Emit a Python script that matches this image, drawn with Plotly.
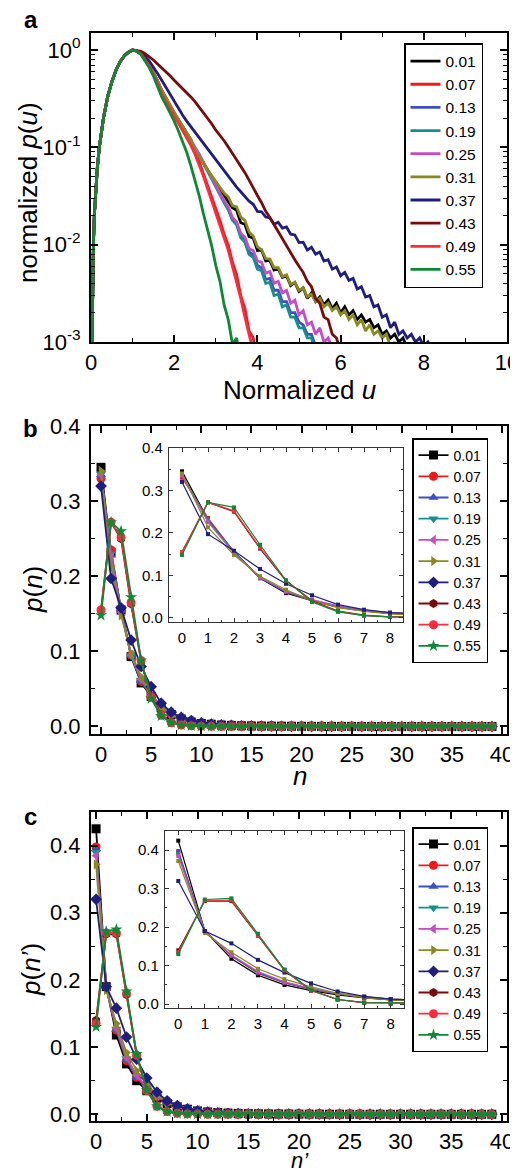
import plotly.graph_objects as go

W, H = 518, 1171          # reference picture size
OFF = 8                   # the page body margin shifts the figure by 8 px
FW, FH = W - OFF, H - OFF
FONT = "Liberation Sans, Arial, sans-serif"

# series labels, colours and marker symbols shared by all panels
labels = ["0.01", "0.07", "0.13", "0.19", "0.25", "0.31", "0.37", "0.43", "0.49", "0.55"]
colors = ["#000000", "#f01818", "#3a4fc8", "#12918f", "#c94bc4",
          "#8a8a1c", "#1e1e82", "#7a0a0a", "#ff2b3a", "#0b8a34"]
symbols = ["square", "circle", "triangle-up", "triangle-down", "triangle-left",
           "triangle-right", "diamond", "hexagon", "circle", "star"]

# ---- panel a: normalized p(u), shared rising edge then one tail per series
u_rise = [0.01, 0.02, 0.04, 0.06, 0.08, 0.1, 0.15, 0.2, 0.3, 0.4, 0.5, 0.6, 0.7, 0.8, 0.9]
p_rise = [0.0004, 0.001, 0.004, 0.011, 0.02, 0.03, 0.06, 0.10, 0.20, 0.33, 0.47, 0.62, 0.76, 0.87, 0.95]
u_tail = [1.0, 1.1, 1.2, 1.3, 1.4, 1.5, 1.6, 1.7, 1.8, 1.9,
          2.0, 2.1, 2.2, 2.3, 2.4, 2.5, 2.6, 2.7, 2.8, 2.9,
          3.0, 3.1, 3.2, 3.3, 3.4, 3.5, 3.6, 3.7, 3.8, 3.9,
          4.0, 4.1, 4.2, 4.3, 4.4, 4.5, 4.6, 4.7, 4.8, 4.9,
          5.0, 5.1, 5.2, 5.3, 5.4, 5.5, 5.6, 5.7, 5.8, 5.9,
          6.0, 6.1, 6.2, 6.3, 6.4, 6.5, 6.6, 6.7, 6.8, 6.9,
          7.0, 7.1, 7.2, 7.3, 7.4, 7.5, 7.6, 7.7, 7.8, 7.9,
          8.0, 8.1, 8.2, 8.3, 8.4]

pa_001 = [1.0, 0.977, 0.923, 0.822, 0.708, 0.589, 0.479, 0.385, 0.32, 0.266,
          0.226, 0.193, 0.164, 0.14, 0.12, 0.096, 0.081, 0.069, 0.059, 0.050,
          0.043, 0.037, 0.032, 0.028, 0.024, 0.0225, 0.0168, 0.0162, 0.0121, 0.0117,
          0.0087, 0.0088, 0.0068, 0.0069, 0.0055, 0.0057, 0.0046, 0.0048, 0.0038, 0.0041,
          0.0033, 0.0036, 0.0028, 0.0032, 0.0026, 0.0029, 0.0024, 0.0027, 0.0022, 0.0025,
          0.0020, 0.0023, 0.0019, 0.0021, 0.0017, 0.0019, 0.0016, 0.0017, 0.0014, 0.0015,
          0.0012, 0.0013, 0.0011, 0.0012, 0.0010, 0.0011, 0.0009, 0.0007]
pa_007 = [1.0, 0.98, 0.92, 0.81, 0.70, 0.575, 0.47, 0.36, 0.30, 0.25,
          0.214, 0.182, 0.155, 0.129, 0.11, 0.089, 0.071, 0.054, 0.041, 0.030,
          0.023, 0.0178, 0.0128, 0.0099, 0.0066, 0.0049, 0.0030, 0.0022, 0.0013, 0.0011,
          0.0006]
pa_013 = [1.0, 0.977, 0.922, 0.821, 0.706, 0.587, 0.477, 0.379, 0.315, 0.262,
          0.223, 0.190, 0.161, 0.137, 0.119, 0.101, 0.084, 0.070, 0.058, 0.048,
          0.040, 0.0332, 0.0276, 0.0232, 0.0182, 0.0165, 0.0124, 0.0110, 0.0084, 0.0079,
          0.0061, 0.0058, 0.0044, 0.0045, 0.0034, 0.0034, 0.0026, 0.0026, 0.0020, 0.0020,
          0.0016, 0.0015, 0.0012, 0.0012, 0.0009, 0.0008]
pa_019 = [1.0, 0.977, 0.922, 0.82, 0.705, 0.586, 0.476, 0.378, 0.314, 0.261,
          0.222, 0.189, 0.160, 0.136, 0.118, 0.100, 0.083, 0.069, 0.057, 0.047,
          0.039, 0.0325, 0.027, 0.0228, 0.0178, 0.0160, 0.0118, 0.0106, 0.0079, 0.0074,
          0.0056, 0.0054, 0.0040, 0.0041, 0.0030, 0.0031, 0.0023, 0.0024, 0.0018, 0.0018,
          0.0014, 0.0014, 0.0011, 0.0011, 0.0008]
pa_025 = [1.0, 0.977, 0.923, 0.822, 0.708, 0.589, 0.479, 0.38, 0.316, 0.263,
          0.224, 0.191, 0.162, 0.138, 0.12, 0.102, 0.0851, 0.0708, 0.0589, 0.049,
          0.0407, 0.0339, 0.0282, 0.0245, 0.019, 0.0172, 0.0131, 0.0119, 0.0091, 0.0087,
          0.0068, 0.0066, 0.0051, 0.0053, 0.0040, 0.0042, 0.0032, 0.0034, 0.0025, 0.0027,
          0.0019, 0.0021, 0.0015, 0.0016, 0.0012, 0.0014, 0.0010, 0.0011, 0.0009, 0.0007]
pa_031 = [1.0, 0.977, 0.923, 0.822, 0.708, 0.589, 0.479, 0.389, 0.324, 0.269,
          0.229, 0.195, 0.166, 0.141, 0.12, 0.0933, 0.0794, 0.0676, 0.0589, 0.0513,
          0.0447, 0.0389, 0.0339, 0.031, 0.0252, 0.0245, 0.0192, 0.0178, 0.0135, 0.0123,
          0.0095, 0.0089, 0.0072, 0.0071, 0.0058, 0.0058, 0.0047, 0.0049, 0.0039, 0.0041,
          0.0034, 0.0036, 0.0029, 0.0031, 0.0026, 0.0028, 0.0023, 0.0025, 0.0021, 0.0023,
          0.0019, 0.0021, 0.0017, 0.0019, 0.0015, 0.0017, 0.0013, 0.0015, 0.0012, 0.0013,
          0.0011, 0.0012, 0.0009, 0.0010, 0.0007]
pa_037 = [1.0, 0.98, 0.935, 0.86, 0.77, 0.67, 0.575, 0.49, 0.415, 0.35,
          0.295, 0.25, 0.215, 0.186, 0.163, 0.143, 0.126, 0.111, 0.098, 0.086,
          0.075, 0.065, 0.057, 0.050, 0.044, 0.039, 0.035, 0.031, 0.028, 0.026,
          0.022, 0.0218, 0.0192, 0.0188, 0.0162, 0.0170, 0.0148, 0.0152, 0.0128, 0.0126,
          0.0105, 0.0106, 0.0088, 0.0094, 0.0080, 0.0084, 0.0068, 0.0070, 0.0056, 0.0059,
          0.0048, 0.0052, 0.0043, 0.0045, 0.0035, 0.0037, 0.0029, 0.0030, 0.0023, 0.0024,
          0.0018, 0.0019, 0.0014, 0.0016, 0.0012, 0.0013, 0.0011, 0.0012, 0.0010, 0.0011,
          0.0009, 0.0010, 0.0008]
pa_043 = [1.0, 0.99, 0.97, 0.92, 0.86, 0.79, 0.72, 0.66, 0.60, 0.545,
          0.49, 0.445, 0.40, 0.365, 0.33, 0.295, 0.26, 0.23, 0.20, 0.175,
          0.15, 0.133, 0.117, 0.101, 0.087, 0.075, 0.064, 0.055, 0.046, 0.039,
          0.032, 0.027, 0.022, 0.019, 0.016, 0.0135, 0.0115, 0.0097, 0.0083, 0.0070,
          0.0060, 0.0052, 0.0042, 0.0037, 0.0028, 0.0025, 0.0018, 0.0017, 0.0012, 0.0011,
          0.0008, 0.0006]
pa_049 = [1.0, 0.975, 0.915, 0.80, 0.69, 0.565, 0.46, 0.355, 0.295, 0.245,
          0.21, 0.178, 0.15, 0.125, 0.105, 0.085, 0.067, 0.051, 0.038, 0.028,
          0.021, 0.0160, 0.0118, 0.0088, 0.0061, 0.0043, 0.0028, 0.0018, 0.0012, 0.0008]
pa_055 = [1.0, 0.97, 0.90, 0.78, 0.66, 0.54, 0.42, 0.33, 0.275, 0.23,
          0.186, 0.148, 0.117, 0.089, 0.065, 0.046, 0.032, 0.021, 0.0145, 0.0098,
          0.0061, 0.0042, 0.0024, 0.0017, 0.00095, 0.0011, 0.0006]
pa_tails = [pa_001, pa_007, pa_013, pa_019, pa_025, pa_031, pa_037, pa_043, pa_049, pa_055]

log_tickvals = [0.001, 0.01, 0.1, 1]
log_ticktext = ["10<sup>-3</sup>", "10<sup>-2</sup>", "10<sup>-1</sup>", "10<sup>0</sup>"]

# ---- panel b: p(n), n = 0..39
n_vals = list(range(40))
b_001 = [0.345, 0.232, 0.155, 0.093, 0.058, 0.040, 0.025, 0.016, 0.010, 0.006,
         0.004, 0.003, 0.002, 0.0015, 0.001, 0.0008, 0.0006, 0.0005, 0.0004, 0.0003,
         0.0002, 0.0002, 0.0001, 0.0001, 0.0001, 0.0001, 0, 0, 0, 0,
         0, 0, 0, 0, 0, 0, 0, 0, 0, 0]
b_007 = [0.330, 0.235, 0.155, 0.095, 0.060, 0.040, 0.025, 0.016, 0.010, 0.0065,
         0.0042, 0.003, 0.002, 0.0015, 0.001, 0.0008, 0.0006, 0.0005, 0.0004, 0.0003,
         0.0002, 0.0002, 0.0001, 0.0001, 0.0001, 0.0001, 0, 0, 0, 0,
         0, 0, 0, 0, 0, 0, 0, 0, 0, 0]
b_013 = [0.335, 0.228, 0.156, 0.094, 0.061, 0.041, 0.026, 0.017, 0.011, 0.007,
         0.0045, 0.0032, 0.0022, 0.0016, 0.0011, 0.0009, 0.0007, 0.0005, 0.0004, 0.0003,
         0.0002, 0.0002, 0.0001, 0.0001, 0.0001, 0.0001, 0, 0, 0, 0,
         0, 0, 0, 0, 0, 0, 0, 0, 0, 0]
b_019 = [0.336, 0.230, 0.155, 0.094, 0.062, 0.042, 0.027, 0.017, 0.011, 0.007,
         0.0046, 0.0033, 0.0023, 0.0016, 0.0012, 0.0009, 0.0007, 0.0005, 0.0004, 0.0003,
         0.0002, 0.0002, 0.0001, 0.0001, 0.0001, 0.0001, 0, 0, 0, 0,
         0, 0, 0, 0, 0, 0, 0, 0, 0, 0]
b_025 = [0.335, 0.225, 0.152, 0.095, 0.063, 0.043, 0.028, 0.018, 0.012, 0.008,
         0.005, 0.0036, 0.0026, 0.0018, 0.0013, 0.001, 0.0008, 0.0006, 0.0005, 0.0004,
         0.0003, 0.0002, 0.0002, 0.0001, 0.0001, 0.0001, 0, 0, 0, 0,
         0, 0, 0, 0, 0, 0, 0, 0, 0, 0]
b_031 = [0.340, 0.213, 0.148, 0.098, 0.066, 0.040, 0.024, 0.015, 0.009, 0.0055,
         0.0035, 0.0024, 0.0016, 0.0011, 0.0008, 0.0006, 0.0004, 0.0003, 0.0002, 0.0002,
         0.0001, 0.0001, 0.0001, 0, 0, 0, 0, 0, 0, 0,
         0, 0, 0, 0, 0, 0, 0, 0, 0, 0]
b_037 = [0.320, 0.197, 0.158, 0.115, 0.080, 0.053, 0.031, 0.019, 0.012, 0.008,
         0.005, 0.0033, 0.0022, 0.0015, 0.001, 0.0007, 0.0005, 0.0004, 0.0003, 0.0002,
         0.0002, 0.0001, 0.0001, 0.0001, 0, 0, 0, 0, 0, 0,
         0, 0, 0, 0, 0, 0, 0, 0, 0, 0]
b_043 = [0.155, 0.272, 0.250, 0.163, 0.087, 0.040, 0.016, 0.006, 0.002, 0.001,
         0.0005, 0.0002, 0.0001, 0.0001, 0, 0, 0, 0, 0, 0,
         0, 0, 0, 0, 0, 0, 0, 0, 0, 0,
         0, 0, 0, 0, 0, 0, 0, 0, 0, 0]
b_049 = [0.155, 0.272, 0.252, 0.165, 0.088, 0.039, 0.015, 0.005, 0.002, 0.001,
         0.0004, 0.0002, 0.0001, 0.0001, 0, 0, 0, 0, 0, 0,
         0, 0, 0, 0, 0, 0, 0, 0, 0, 0,
         0, 0, 0, 0, 0, 0, 0, 0, 0, 0]
b_055 = [0.148, 0.272, 0.260, 0.172, 0.088, 0.037, 0.014, 0.005, 0.0018, 0.0007,
         0.0003, 0.0001, 0.0001, 0, 0, 0, 0, 0, 0, 0,
         0, 0, 0, 0, 0, 0, 0, 0, 0, 0,
         0, 0, 0, 0, 0, 0, 0, 0, 0, 0]
b_series = [b_001, b_007, b_013, b_019, b_025, b_031, b_037, b_043, b_049, b_055]

# ---- panel c: p(n'), n' = 0..39
c_001 = [0.425, 0.190, 0.118, 0.075, 0.050, 0.035, 0.024, 0.016, 0.011, 0.0075,
         0.005, 0.0035, 0.0025, 0.0018, 0.0013, 0.001, 0.0008, 0.0006, 0.0005, 0.0004,
         0.0003, 0.0002, 0.0002, 0.0001, 0.0001, 0.0001, 0, 0, 0, 0,
         0, 0, 0, 0, 0, 0, 0, 0, 0, 0]
c_007 = [0.398, 0.190, 0.125, 0.080, 0.055, 0.038, 0.026, 0.018, 0.012, 0.008,
         0.0055, 0.0038, 0.0027, 0.0019, 0.0014, 0.001, 0.0008, 0.0006, 0.0005, 0.0004,
         0.0003, 0.0002, 0.0002, 0.0001, 0.0001, 0.0001, 0, 0, 0, 0,
         0, 0, 0, 0, 0, 0, 0, 0, 0, 0]
c_013 = [0.395, 0.190, 0.126, 0.082, 0.056, 0.039, 0.027, 0.018, 0.0125, 0.0085,
         0.006, 0.004, 0.0028, 0.002, 0.0014, 0.001, 0.0008, 0.0006, 0.0005, 0.0004,
         0.0003, 0.0002, 0.0002, 0.0001, 0.0001, 0.0001, 0, 0, 0, 0,
         0, 0, 0, 0, 0, 0, 0, 0, 0, 0]
c_019 = [0.390, 0.190, 0.127, 0.083, 0.057, 0.040, 0.027, 0.019, 0.013, 0.009,
         0.006, 0.0042, 0.003, 0.0021, 0.0015, 0.0011, 0.0008, 0.0006, 0.0005, 0.0004,
         0.0003, 0.0002, 0.0002, 0.0001, 0.0001, 0.0001, 0, 0, 0, 0,
         0, 0, 0, 0, 0, 0, 0, 0, 0, 0]
c_025 = [0.385, 0.188, 0.128, 0.085, 0.058, 0.041, 0.028, 0.019, 0.013, 0.009,
         0.0062, 0.0044, 0.0031, 0.0022, 0.0016, 0.0012, 0.0009, 0.0007, 0.0005, 0.0004,
         0.0003, 0.0003, 0.0002, 0.0002, 0.0001, 0.0001, 0, 0, 0, 0,
         0, 0, 0, 0, 0, 0, 0, 0, 0, 0]
c_031 = [0.372, 0.185, 0.135, 0.092, 0.065, 0.045, 0.028, 0.017, 0.011, 0.007,
         0.0045, 0.003, 0.002, 0.0014, 0.001, 0.0007, 0.0005, 0.0004, 0.0003, 0.0002,
         0.0002, 0.0001, 0.0001, 0.0001, 0, 0, 0, 0, 0, 0,
         0, 0, 0, 0, 0, 0, 0, 0, 0, 0]
c_037 = [0.320, 0.190, 0.158, 0.115, 0.082, 0.054, 0.033, 0.020, 0.013, 0.008,
         0.005, 0.0033, 0.0022, 0.0015, 0.001, 0.0007, 0.0005, 0.0004, 0.0003, 0.0002,
         0.0002, 0.0001, 0.0001, 0.0001, 0, 0, 0, 0, 0, 0,
         0, 0, 0, 0, 0, 0, 0, 0, 0, 0]
c_043 = [0.140, 0.268, 0.268, 0.178, 0.088, 0.036, 0.012, 0.004, 0.0015, 0.0006,
         0.0003, 0.0001, 0.0001, 0, 0, 0, 0, 0, 0, 0,
         0, 0, 0, 0, 0, 0, 0, 0, 0, 0,
         0, 0, 0, 0, 0, 0, 0, 0, 0, 0]
c_049 = [0.135, 0.270, 0.270, 0.180, 0.088, 0.035, 0.012, 0.004, 0.0015, 0.0006,
         0.0003, 0.0001, 0.0001, 0, 0, 0, 0, 0, 0, 0,
         0, 0, 0, 0, 0, 0, 0, 0, 0, 0,
         0, 0, 0, 0, 0, 0, 0, 0, 0, 0]
c_055 = [0.130, 0.272, 0.275, 0.183, 0.090, 0.036, 0.012, 0.004, 0.0015, 0.0005,
         0.0002, 0.0001, 0.0001, 0, 0, 0, 0, 0, 0, 0,
         0, 0, 0, 0, 0, 0, 0, 0, 0, 0,
         0, 0, 0, 0, 0, 0, 0, 0, 0, 0]
c_series = [c_001, c_007, c_013, c_019, c_025, c_031, c_037, c_043, c_049, c_055]


# layout helpers: positions are given in pixels of the reference picture
def px(x):
    return (x - OFF) / FW


def py(y):
    return 1 - (y - OFF) / FH


def dom_x(left, right):
    return [px(left), px(right)]


def dom_y(top, bottom):
    return [py(bottom), py(top)]


fig = go.Figure()

# panel a
for lab, col, tail in zip(labels, colors, pa_tails):
    fig.add_trace(go.Scatter(
        x=u_rise + u_tail[:len(tail)], y=p_rise + tail,
        mode="lines", name=lab, line=dict(color=col, width=2.8),
        xaxis="x", yaxis="y", legend="legend"))

# panels b and c, main plot + inset
for series, xa, ya, xi, yi, leg in [(b_series, "x2", "y2", "x4", "y4", "legend2"),
                                    (c_series, "x3", "y3", "x5", "y5", "legend3")]:
    for lab, col, sym, vals in zip(labels, colors, symbols, series):
        fig.add_trace(go.Scatter(
            x=n_vals, y=vals, mode="lines+markers", name=lab,
            line=dict(color=col, width=1.8),
            marker=dict(symbol=sym, size=9, color=col, line=dict(width=0)),
            xaxis=xa, yaxis=ya, legend=leg))
    for lab, col, vals in zip(labels, colors, series):
        fig.add_trace(go.Scatter(
            x=n_vals, y=vals, mode="lines+markers", name=lab, showlegend=False,
            line=dict(color=col, width=1.2),
            marker=dict(symbol="square", size=4, color=col),
            xaxis=xi, yaxis=yi))

main_ax = dict(showline=True, linewidth=2, linecolor="black", mirror="allticks",
               ticks="inside", ticklen=7, tickwidth=1.8, tickcolor="black",
               showgrid=False, zeroline=False, ticklabeloverflow="allow",
               tickfont=dict(size=22, family=FONT, color="black"))
main_x = dict(main_ax, ticklabelstandoff=0)
main_y = dict(main_ax, ticklabelstandoff=4)
inset_ax = dict(showline=True, linewidth=1.2, linecolor="#333", mirror="allticks",
                ticks="inside", ticklen=4, tickwidth=1, tickcolor="#333",
                showgrid=False, zeroline=False, ticklabelstandoff=2,
                tickfont=dict(size=15, family=FONT, color="black"))
minor_main = dict(ticks="inside", ticklen=4, tickwidth=1.3, tickcolor="black")
minor_inset = dict(ticks="inside", ticklen=2, tickwidth=1, tickcolor="#333")

fig.update_layout(
    width=FW, height=FH, margin=dict(l=0, r=0, t=0, b=0, autoexpand=False),
    paper_bgcolor="white", plot_bgcolor="rgba(0,0,0,0)",
    font=dict(family=FONT, color="black"),
    xaxis=dict(main_x, domain=dom_x(91, 507), anchor="y", range=[0, 10], dtick=2,
               minor=dict(minor_main, dtick=1)),
    yaxis=dict(main_y, domain=dom_y(33, 342), anchor="x", type="log", range=[-3, 0.175],
               tickmode="array", tickvals=log_tickvals, ticktext=log_ticktext,
               minor=dict(minor_main, dtick="D1")),
    xaxis2=dict(main_x, domain=dom_x(91, 507), anchor="y2", range=[-1, 40.5], dtick=5,
                minor=dict(minor_main, dtick=2.5)),
    yaxis2=dict(main_y, domain=dom_y(426, 734), anchor="x2", range=[-0.01, 0.4], dtick=0.1,
                tickformat=".1f", minor=dict(minor_main, dtick=0.05)),
    xaxis3=dict(main_x, domain=dom_x(91, 507), anchor="y3", range=[-0.5, 40.5], dtick=5,
                minor=dict(minor_main, dtick=2.5)),
    yaxis3=dict(main_y, domain=dom_y(812, 1121), anchor="x3", range=[-0.01, 0.45], dtick=0.1,
                tickformat=".1f", minor=dict(minor_main, dtick=0.05)),
    xaxis4=dict(inset_ax, domain=dom_x(169, 403), anchor="y4", range=[-0.5, 8.5], dtick=1,
                minor=dict(minor_inset, dtick=0.5)),
    yaxis4=dict(inset_ax, domain=dom_y(448, 622), anchor="x4", range=[-0.01, 0.4], dtick=0.1,
                tickformat=".1f", minor=dict(minor_inset, dtick=0.05)),
    xaxis5=dict(inset_ax, domain=dom_x(165, 404), anchor="y5", range=[-0.5, 8.5], dtick=1,
                minor=dict(minor_inset, dtick=0.5)),
    yaxis5=dict(inset_ax, domain=dom_y(831, 1008), anchor="x5", range=[-0.01, 0.45], dtick=0.1,
                tickformat=".1f", minor=dict(minor_inset, dtick=0.05)),
)

leg_common = dict(xanchor="left", yanchor="top", bgcolor="white",
                  bordercolor="black", borderwidth=1.5, tracegroupgap=0,
                  itemsizing="trace")
fig.update_layout(
    legend=dict(leg_common, x=px(404), y=py(43), font=dict(size=15.5, family=FONT)),
    legend2=dict(leg_common, x=px(412), y=py(438), font=dict(size=14, family=FONT)),
    legend3=dict(leg_common, x=px(412), y=py(827), font=dict(size=14, family=FONT)),
)

# axis titles and panel letters (text, x, y, angle, size, bold, box height)
texts = [
    ("normalized <i>p</i>(<i>u</i>)", 28, 193, -90, 26, False, None),
    ("Normalized <i>u</i>", 299, 390, 0, 26, False, None),
    ("<i>p</i>(<i>n</i>)", 33, 590, -90, 26, False, None),
    ("<i>n</i>", 300, 776, 0, 26, False, 20),
    ("<i>p</i>(<i>n’</i>)", 31, 970, -90, 26, False, None),
    ("<i>n’</i>", 300, 1160, 0, 22, False, 17),
    ("a", 31, 19, 0, 24, True, 18),
    ("b", 30, 428, 0, 24, True, None),
    ("c", 30, 816, 0, 24, True, None),
]
for txt, x0, y0, ang, size, bold, box_h in texts:
    fig.add_annotation(
        text=f"<b>{txt}</b>" if bold else txt, xref="paper", yref="paper",
        x=px(x0), y=py(y0), xanchor="center", yanchor="middle", height=box_h,
        textangle=ang, showarrow=False, font=dict(size=size, family=FONT, color="black"))

fig.write_html("out.html")
